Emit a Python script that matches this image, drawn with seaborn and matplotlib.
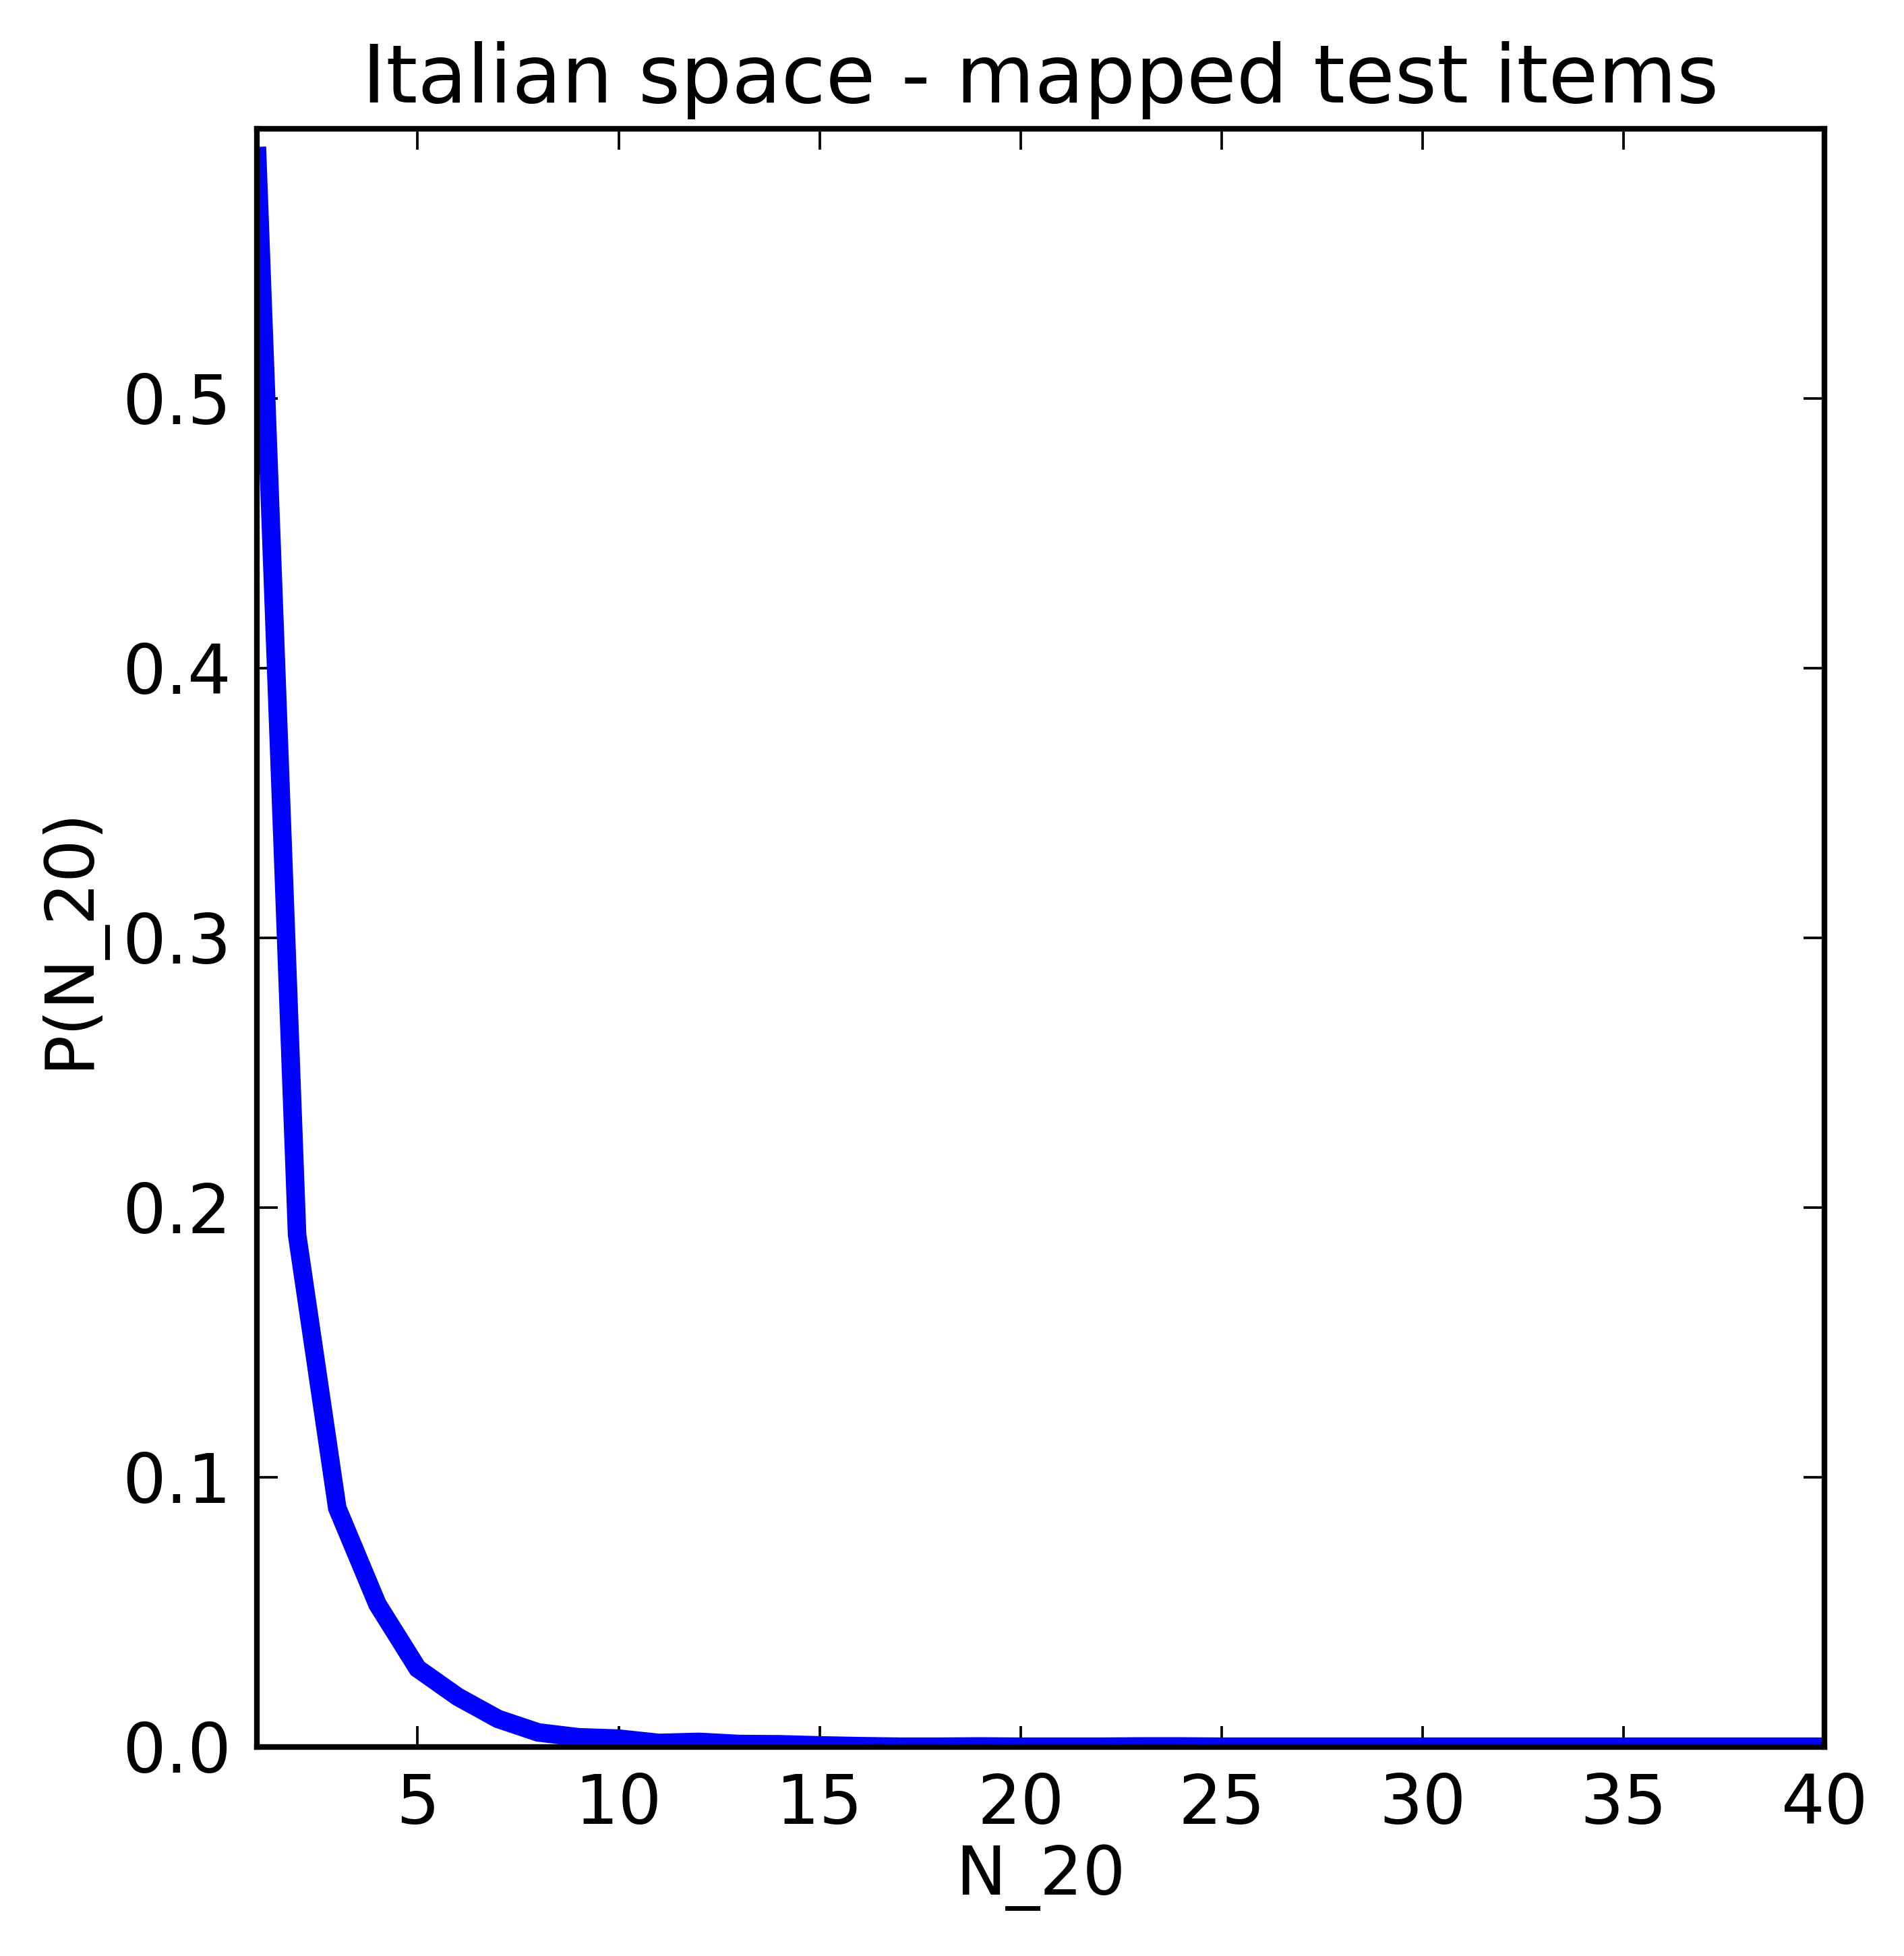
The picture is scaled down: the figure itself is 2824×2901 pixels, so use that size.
import matplotlib
matplotlib.use("Agg")
import matplotlib.pyplot as plt
import seaborn as sns
import pandas as pd

# values
n_values = list(range(1, 41))
p_values = [0.5933, 0.1900, 0.0886, 0.0529, 0.0291, 0.0186, 0.0104, 0.0054,
            0.0036, 0.0031, 0.0015, 0.0019, 0.0011, 0.0010, 0.0006, 0.0003,
            0.0001, 0.0001, 0.0002, 0.0001, 0.0001, 0.0001, 0.0002, 0.0002,
            0.0001, 0.0001, 0.0001, 0.0001, 0.0001, 0.0001, 0.0001, 0.0001,
            0.0001, 0.0001, 0.0001, 0.0001, 0.0001, 0.0001, 0.0001, 0.0001]
x_ticks = [5, 10, 15, 20, 25, 30, 35, 40]
y_ticks = [0.0, 0.1, 0.2, 0.3, 0.4, 0.5]

df = pd.DataFrame({"N_20": n_values, "P": p_values})

sns.set_style("ticks")
plt.rcParams.update({
    "font.family": ["DejaVu Sans"],
    "text.color": "black",
    "axes.labelcolor": "black",
    "axes.edgecolor": "black",
    "axes.linewidth": 1.0,
    "xtick.color": "black",
    "ytick.color": "black",
    "xtick.direction": "in",
    "ytick.direction": "in",
    "xtick.top": True,
    "ytick.right": True,
    "xtick.major.size": 3.7,
    "ytick.major.size": 3.7,
    "xtick.major.width": 0.45,
    "ytick.major.width": 0.45,
    "xtick.major.pad": 4.5,
    "ytick.major.pad": 4.5,
    "lines.solid_capstyle": "butt",
    "lines.solid_joinstyle": "miter",
})

fig = plt.figure(figsize=(2824 / 600, 2901 / 600), dpi=600)
fig.subplots_adjust(left=381 / 2824, right=2706 / 2824,
                    top=1 - 191 / 2901, bottom=1 - 2591 / 2901)
ax = fig.add_subplot(111)

sns.lineplot(data=df, x="N_20", y="P", color="blue", linewidth=3.3, ax=ax)

ax.set_xlim(1, 40)
ax.set_ylim(0, 0.6)
ax.set_xticks(x_ticks)
ax.set_yticks(y_ticks)
ax.set_yticklabels([f"{v:.1f}" for v in y_ticks])
ax.tick_params(labelsize=12.2)

ax.set_title("Italian space - mapped test items", fontsize=14.4, pad=4.7)
ax.set_xlabel("N_20", fontsize=12, va="center")
ax.set_ylabel("P(N_20)", fontsize=12, va="center")
ax.xaxis.set_label_coords(0.5, (2591 - 2785) / 2400)
ax.yaxis.set_label_coords((104 - 381) / 2325, 0.5)

fig.savefig("out.png", dpi=600)
